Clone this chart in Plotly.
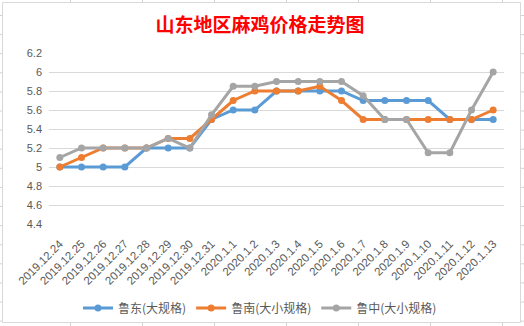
import plotly.graph_objects as go

categories = ["2019.12.24", "2019.12.25", "2019.12.26", "2019.12.27", "2019.12.28",
              "2019.12.29", "2019.12.30", "2019.12.31", "2020.1.1", "2020.1.2",
              "2020.1.3", "2020.1.4", "2020.1.5", "2020.1.6", "2020.1.7",
              "2020.1.8", "2020.1.9", "2020.1.10", "2020.1.11", "2020.1.12", "2020.1.13"]
ludong = [5.0, 5.0, 5.0, 5.0, 5.2, 5.2, 5.2, 5.5, 5.6, 5.6, 5.8, 5.8, 5.8, 5.8, 5.7,
          5.7, 5.7, 5.7, 5.5, 5.5, 5.5]
lunan = [5.0, 5.1, 5.2, 5.2, 5.2, 5.3, 5.3, 5.5, 5.7, 5.8, 5.8, 5.8, 5.85, 5.7, 5.5,
         5.5, 5.5, 5.5, 5.5, 5.5, 5.6]
luzhong = [5.1, 5.2, 5.2, 5.2, 5.2, 5.3, 5.2, 5.55, 5.85, 5.85, 5.9, 5.9, 5.9, 5.9, 5.75,
           5.5, 5.5, 5.15, 5.15, 5.6, 6.0]
series_names = ["鲁东(大规格)", "鲁南(大小规格)", "鲁中(大小规格)"]
y_ticks = [4.4, 4.6, 4.8, 5.0, 5.2, 5.4, 5.6, 5.8, 6.0, 6.2]
y_tick_text = ["4.4", "4.6", "4.8", "5", "5.2", "5.4", "5.6", "5.8", "6", "6.2"]
title_text = "山东地区麻鸡价格走势图"

W, H = 524, 326
L, R, T, B = 49, 20, 53, 102
pw, ph = W - L - R, H - T - B


def px(x):
    return (x - L) / pw


def py(y):
    return (H - B - y) / ph


colors = ["#5B9BD5", "#ED7D31", "#A5A5A5"]
fig = go.Figure()
for name, vals, c in zip(series_names, [ludong, lunan, luzhong], colors):
    fig.add_trace(go.Scatter(
        x=list(range(len(categories))), y=vals, name=name, mode="lines+markers",
        line=dict(color=c, width=3), marker=dict(color=c, size=7),
    ))

shapes = []
grid_c = "#d4d4d4"
# spreadsheet cell lines behind the chart
for gx in [70, 142, 214, 286, 358, 430, 502]:
    shapes.append(dict(type="line", xref="paper", yref="paper", layer="below",
                       x0=px(gx + 0.5), x1=px(gx + 0.5), y0=py(0), y1=py(H),
                       line=dict(color=grid_c, width=1)))
for k in range(17):
    gy = 15 + k * 19.1
    shapes.append(dict(type="line", xref="paper", yref="paper", layer="below",
                       x0=px(0), x1=px(W), y0=py(gy + 0.5), y1=py(gy + 0.5),
                       line=dict(color=grid_c, width=1)))
# chart area
shapes.append(dict(type="rect", xref="paper", yref="paper", layer="below",
                   x0=px(2.5), x1=px(520.5), y0=py(2.5), y1=py(322.5),
                   fillcolor="white", line=dict(color="#d9d9d9", width=1)))

fig.update_layout(
    width=W, height=H,
    margin=dict(l=L, r=R, t=T, b=B, autoexpand=False),
    paper_bgcolor="white", plot_bgcolor="rgba(0,0,0,0)",
    shapes=shapes,
    title=dict(text=title_text, xref="container", yref="container",
               x=260 / W, y=1 - 25 / H, xanchor="center", yanchor="middle",
               font=dict(family="Noto Sans CJK SC", size=19, color="#FF0000", weight="bold")),
    xaxis=dict(range=[-0.5, len(categories) - 0.5], tickmode="array",
               tickvals=list(range(len(categories))), ticktext=categories,
               tickangle=-45, showgrid=False, zeroline=False, showline=False,
               ticks="", ticklabelstandoff=10, automargin=False,
               tickfont=dict(family="Liberation Sans", size=11.5, color="#595959")),
    yaxis=dict(range=[4.4, 6.2], tickmode="array", tickvals=y_ticks, ticktext=y_tick_text,
               showgrid=True, gridcolor="#d9d9d9", gridwidth=1, zeroline=False,
               showline=False, ticks="", ticklabelstandoff=6, automargin=False,
               tickfont=dict(family="Liberation Sans", size=11, color="#595959")),
    legend=dict(orientation="h", x=px(260), xanchor="center", y=py(308), yanchor="middle",
                font=dict(family="Noto Sans CJK SC", size=12, color="#595959"),
                bgcolor="rgba(0,0,0,0)", itemwidth=30, tracegroupgap=0),
    showlegend=True,
)

fig.write_html("out.html")
